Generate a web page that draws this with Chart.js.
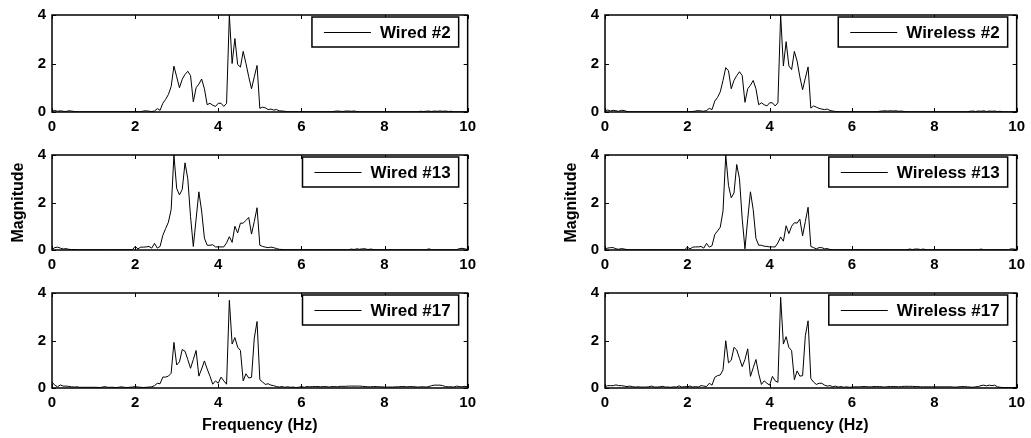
<!DOCTYPE html>
<html>
<head>
<meta charset="utf-8">
<script src="https://cdn.jsdelivr.net/npm/chart.js@4/dist/chart.umd.min.js"></script>
<style>
  html, body { margin: 0; padding: 0; background: #fff; }
  #wrap { position: relative; width: 1031px; height: 438px; overflow: hidden; }
  #wrap canvas { position: absolute; }
</style>
</head>
<body>
<div id="wrap"></div>
<script>
// spectra magnitudes, one value every 1/15 Hz from 0 to 10 Hz (15 values per row = 1 Hz)
const wired2 = [
  0.04, 0.06, 0.03, 0.05, 0.03, 0.02, 0.05, 0.04, 0.02, 0.01, 0.01, 0.01, 0.01, 0.01, 0.01,
  0.01, 0.01, 0.01, 0.01, 0.01, 0.01, 0.01, 0.01, 0.01, 0.01, 0.01, 0.01, 0.01, 0.01, 0.01,
  0.01, 0.01, 0.01, 0.04, 0.05, 0.03, 0.02, 0.04, 0.14, 0.07, 0.36, 0.52, 0.72, 1.05, 1.89,
  1.45, 1.00, 1.35, 1.55, 1.68, 1.50, 0.42, 1.00, 1.15, 1.36, 0.96, 0.30, 0.36, 0.28, 0.23,
  0.36, 0.36, 0.23, 0.36, 4.00, 2.00, 3.03, 1.96, 1.85, 2.50, 2.00, 1.45, 0.96, 1.45, 1.92,
  0.15, 0.20, 0.17, 0.10, 0.12, 0.08, 0.10, 0.05, 0.04, 0.03, 0.01, 0.01, 0.01, 0.01, 0.01,
  0.01, 0.01, 0.01, 0.01, 0.01, 0.01, 0.01, 0.01, 0.01, 0.01, 0.01, 0.01, 0.03, 0.04, 0.03,
  0.02, 0.04, 0.04, 0.03, 0.04, 0.02, 0.01, 0.01, 0.01, 0.01, 0.01, 0.01, 0.01, 0.01, 0.01,
  0.01, 0.01, 0.01, 0.01, 0.01, 0.01, 0.01, 0.01, 0.01, 0.01, 0.01, 0.01, 0.01, 0.03, 0.02,
  0.03, 0.04, 0.02, 0.04, 0.03, 0.04, 0.03, 0.04, 0.02, 0.03, 0.01, 0.01, 0.01, 0.01, 0.01,
  0.01
];
const wired13 = [
  0.03, 0.10, 0.12, 0.08, 0.04, 0.06, 0.03, 0.02, 0.02, 0.01, 0.01, 0.01, 0.01, 0.01, 0.01,
  0.01, 0.01, 0.01, 0.01, 0.01, 0.01, 0.01, 0.01, 0.01, 0.01, 0.01, 0.01, 0.01, 0.01, 0.01,
  0.15, 0.05, 0.12, 0.12, 0.13, 0.15, 0.08, 0.28, 0.08, 0.15, 0.62, 0.90, 1.17, 1.70, 4.00,
  2.59, 2.32, 2.55, 3.67, 3.00, 1.40, 0.15, 1.30, 2.45, 1.64, 0.50, 0.20, 0.20, 0.22, 0.13,
  0.13, 0.13, 0.13, 0.30, 0.56, 0.32, 1.00, 0.72, 1.13, 1.13, 1.25, 1.37, 0.67, 1.20, 1.78,
  0.20, 0.15, 0.12, 0.10, 0.12, 0.10, 0.06, 0.03, 0.02, 0.01, 0.01, 0.01, 0.01, 0.01, 0.01,
  0.01, 0.01, 0.01, 0.01, 0.01, 0.01, 0.01, 0.01, 0.01, 0.01, 0.01, 0.01, 0.01, 0.01, 0.01,
  0.01, 0.01, 0.01, 0.04, 0.02, 0.05, 0.03, 0.05, 0.05, 0.02, 0.04, 0.02, 0.01, 0.01, 0.01,
  0.01, 0.01, 0.01, 0.01, 0.01, 0.01, 0.01, 0.01, 0.01, 0.01, 0.01, 0.01, 0.01, 0.01, 0.01,
  0.01, 0.05, 0.01, 0.01, 0.01, 0.01, 0.01, 0.01, 0.01, 0.01, 0.01, 0.01, 0.06, 0.07, 0.05,
  0.02
];
const wired17 = [
  0.25, 0.12, 0.05, 0.13, 0.08, 0.08, 0.07, 0.05, 0.04, 0.05, 0.03, 0.03, 0.03, 0.03, 0.03,
  0.03, 0.03, 0.02, 0.03, 0.06, 0.03, 0.03, 0.03, 0.02, 0.03, 0.05, 0.03, 0.02, 0.03, 0.04,
  0.06, 0.04, 0.03, 0.02, 0.03, 0.04, 0.05, 0.10, 0.20, 0.18, 0.46, 0.46, 0.50, 0.62, 1.92,
  0.97, 1.10, 1.62, 1.55, 1.20, 0.83, 1.20, 1.58, 0.50, 0.80, 1.14, 0.80, 0.50, 0.16, 0.30,
  0.20, 0.46, 0.30, 0.16, 3.69, 1.85, 2.12, 1.72, 1.58, 0.30, 0.60, 0.42, 0.45, 2.10, 2.80,
  0.35, 0.25, 0.15, 0.18, 0.12, 0.10, 0.06, 0.04, 0.06, 0.03, 0.05, 0.03, 0.04, 0.02, 0.03,
  0.06, 0.03, 0.06, 0.05, 0.06, 0.06, 0.06, 0.05, 0.06, 0.06, 0.04, 0.06, 0.06, 0.05, 0.07,
  0.07, 0.07, 0.08, 0.08, 0.08, 0.08, 0.08, 0.07, 0.06, 0.05, 0.05, 0.06, 0.06, 0.05, 0.05,
  0.04, 0.04, 0.04, 0.04, 0.05, 0.05, 0.06, 0.06, 0.05, 0.06, 0.06, 0.05, 0.04, 0.05, 0.05,
  0.04, 0.06, 0.10, 0.12, 0.12, 0.12, 0.10, 0.06, 0.05, 0.05, 0.04, 0.08, 0.06, 0.05, 0.07,
  0.05
];
const wireless2 = [
  0.05, 0.08, 0.04, 0.07, 0.05, 0.03, 0.07, 0.06, 0.02, 0.01, 0.01, 0.01, 0.01, 0.01, 0.01,
  0.01, 0.01, 0.01, 0.01, 0.01, 0.01, 0.01, 0.01, 0.01, 0.01, 0.01, 0.01, 0.01, 0.01, 0.01,
  0.01, 0.01, 0.02, 0.04, 0.06, 0.04, 0.03, 0.06, 0.15, 0.10, 0.45, 0.60, 0.83, 1.30, 1.83,
  1.70, 0.96, 1.30, 1.50, 1.66, 1.50, 0.40, 0.96, 1.10, 1.30, 0.96, 0.30, 0.38, 0.30, 0.25,
  0.38, 0.38, 0.25, 0.38, 4.00, 1.90, 2.90, 1.90, 1.75, 2.50, 2.10, 1.45, 0.92, 1.40, 1.86,
  0.16, 0.25, 0.20, 0.15, 0.12, 0.10, 0.12, 0.06, 0.04, 0.02, 0.01, 0.01, 0.01, 0.01, 0.01,
  0.01, 0.01, 0.01, 0.01, 0.01, 0.01, 0.01, 0.01, 0.01, 0.01, 0.03, 0.04, 0.05, 0.04, 0.05,
  0.04, 0.05, 0.03, 0.04, 0.02, 0.01, 0.01, 0.01, 0.01, 0.01, 0.01, 0.01, 0.01, 0.01, 0.01,
  0.01, 0.01, 0.01, 0.01, 0.01, 0.01, 0.01, 0.01, 0.01, 0.01, 0.01, 0.01, 0.01, 0.03, 0.04,
  0.02, 0.04, 0.03, 0.05, 0.02, 0.04, 0.03, 0.04, 0.02, 0.03, 0.01, 0.01, 0.01, 0.01, 0.01,
  0.01
];
const wireless13 = [
  0.05, 0.08, 0.10, 0.10, 0.05, 0.03, 0.06, 0.04, 0.02, 0.01, 0.01, 0.01, 0.01, 0.01, 0.01,
  0.01, 0.01, 0.01, 0.01, 0.01, 0.01, 0.01, 0.01, 0.01, 0.01, 0.01, 0.01, 0.01, 0.01, 0.01,
  0.12, 0.05, 0.12, 0.13, 0.13, 0.15, 0.08, 0.28, 0.12, 0.18, 0.65, 0.80, 0.96, 1.64, 4.00,
  2.72, 2.20, 2.40, 3.60, 3.00, 1.30, 0.05, 1.30, 2.45, 1.70, 0.49, 0.20, 0.20, 0.16, 0.15,
  0.13, 0.13, 0.13, 0.30, 0.55, 0.37, 1.02, 0.69, 1.00, 1.15, 1.13, 1.30, 0.60, 1.20, 1.80,
  0.15, 0.10, 0.05, 0.10, 0.10, 0.05, 0.06, 0.02, 0.01, 0.01, 0.01, 0.01, 0.01, 0.01, 0.01,
  0.01, 0.01, 0.01, 0.01, 0.01, 0.01, 0.01, 0.01, 0.01, 0.01, 0.01, 0.01, 0.01, 0.01, 0.01,
  0.01, 0.01, 0.01, 0.01, 0.01, 0.01, 0.04, 0.02, 0.04, 0.04, 0.02, 0.04, 0.01, 0.01, 0.01,
  0.01, 0.01, 0.01, 0.01, 0.01, 0.01, 0.01, 0.01, 0.01, 0.01, 0.01, 0.01, 0.01, 0.01, 0.01,
  0.01, 0.01, 0.04, 0.01, 0.01, 0.01, 0.01, 0.01, 0.01, 0.01, 0.01, 0.01, 0.01, 0.05, 0.04,
  0.02
];
const wireless17 = [
  0.05, 0.10, 0.10, 0.10, 0.13, 0.10, 0.10, 0.08, 0.06, 0.08, 0.06, 0.04, 0.05, 0.04, 0.04,
  0.04, 0.05, 0.08, 0.04, 0.04, 0.05, 0.07, 0.04, 0.04, 0.03, 0.05, 0.04, 0.09, 0.04, 0.06,
  0.05, 0.08, 0.04, 0.06, 0.04, 0.10, 0.08, 0.06, 0.20, 0.12, 0.45, 0.52, 0.55, 0.76, 1.99,
  1.06, 1.17, 1.71, 1.60, 1.25, 0.90, 1.20, 1.65, 0.49, 0.85, 1.20, 0.60, 0.15, 0.30, 0.20,
  0.12, 0.49, 0.30, 0.24, 3.82, 1.85, 2.16, 1.71, 1.57, 0.35, 0.72, 0.50, 0.52, 2.20, 2.83,
  0.40, 0.25, 0.15, 0.20, 0.20, 0.12, 0.08, 0.10, 0.05, 0.08, 0.04, 0.06, 0.03, 0.05, 0.03,
  0.04, 0.05, 0.05, 0.05, 0.06, 0.06, 0.05, 0.05, 0.06, 0.06, 0.06, 0.05, 0.04, 0.06, 0.06,
  0.06, 0.06, 0.05, 0.06, 0.07, 0.07, 0.07, 0.07, 0.06, 0.06, 0.05, 0.05, 0.05, 0.05, 0.05,
  0.05, 0.05, 0.05, 0.05, 0.05, 0.05, 0.05, 0.04, 0.04, 0.05, 0.06, 0.06, 0.05, 0.04, 0.03,
  0.05, 0.06, 0.10, 0.12, 0.09, 0.12, 0.10, 0.12, 0.05, 0.03, 0.02, 0.02, 0.02, 0.02, 0.02,
  0.03
];

const labels = ['Wired #2', 'Wired #13', 'Wired #17', 'Wireless #2', 'Wireless #13', 'Wireless #17'];
const series = [wired2, wired13, wired17, wireless2, wireless13, wireless17];
const xTicks = [0, 2, 4, 6, 8, 10];
const yTicks = [0, 2, 4];
const df = 1 / 15; // frequency resolution (Hz)

const FONT = "'Liberation Sans', Arial, Helvetica, sans-serif";

// canvas placement: two columns, three rows
const colLeft = [0, 553], colWidth = [482, 478], padRight = [14, 13];
const rowTop = [0, 140, 278], rowHeight = [140, 138, 160], xAxisH = [28, 28, 50];

// inward ticks, box frame and boxed legend, matlab style
const framePlugin = {
  id: 'frame',
  afterDatasetsDraw(chart) {
    const { ctx, chartArea: a, scales: { x, y } } = chart;
    ctx.save();
    ctx.strokeStyle = '#000';
    ctx.lineWidth = 1;
    ctx.beginPath();
    x.ticks.forEach(t => {
      const px = Math.round(x.getPixelForValue(t.value)) + 0.5;
      ctx.moveTo(px, a.bottom); ctx.lineTo(px, a.bottom - 4);
      ctx.moveTo(px, a.top); ctx.lineTo(px, a.top + 4);
    });
    y.ticks.forEach(t => {
      const py = Math.round(y.getPixelForValue(t.value)) + 0.5;
      ctx.moveTo(a.left, py); ctx.lineTo(a.left + 4, py);
      ctx.moveTo(a.right, py); ctx.lineTo(a.right - 4, py);
    });
    ctx.stroke();
    ctx.lineWidth = 1.5;
    ctx.strokeRect(a.left, a.top, a.right - a.left, a.bottom - a.top);

    // legend box
    const text = chart.data.datasets[0].label;
    ctx.font = 'bold 17px ' + FONT;
    const tw = ctx.measureText(text).width;
    const w = 12 + 47 + 9 + tw + 8, h = 30;
    const bx = a.right - 9 - w, by = a.top + 2;
    ctx.fillStyle = '#fff';
    ctx.fillRect(bx, by, w, h);
    ctx.lineWidth = 1.5;
    ctx.strokeRect(bx, by, w, h);
    const my = by + h / 2;
    ctx.lineWidth = 1;
    ctx.beginPath();
    ctx.moveTo(bx + 12, Math.round(my) + 0.5);
    ctx.lineTo(bx + 59, Math.round(my) + 0.5);
    ctx.stroke();
    ctx.fillStyle = '#000';
    ctx.textBaseline = 'middle';
    ctx.textAlign = 'left';
    ctx.fillText(text, bx + 68, my + 1);
    ctx.restore();
  }
};

const wrap = document.getElementById('wrap');

series.forEach((vals, k) => {
  const col = Math.floor(k / 3), row = k % 3;
  const cv = document.createElement('canvas');
  cv.width = colWidth[col];
  cv.height = rowHeight[row];
  cv.style.left = colLeft[col] + 'px';
  cv.style.top = rowTop[row] + 'px';
  cv.style.width = colWidth[col] + 'px';
  cv.style.height = rowHeight[row] + 'px';
  wrap.appendChild(cv);

  const points = vals.map((v, i) => ({ x: i * df, y: v }));

  new Chart(cv, {
    type: 'line',
    data: {
      datasets: [{
        label: labels[k],
        data: points,
        borderColor: '#000',
        borderWidth: 1,
        pointRadius: 0,
        tension: 0,
        fill: false
      }]
    },
    options: {
      responsive: false,
      animation: false,
      devicePixelRatio: 1,
      layout: { padding: { left: 0, top: 12, right: padRight[col], bottom: 0 } },
      plugins: { legend: { display: false }, tooltip: { enabled: false } },
      scales: {
        x: {
          type: 'linear',
          min: 0, max: 10,
          afterBuildTicks: s => { s.ticks = xTicks.map(v => ({ value: v })); },
          ticks: { color: '#000', padding: 6, maxRotation: 0, font: { family: FONT, size: 15, weight: 'bold' } },
          grid: { display: false, drawTicks: false },
          border: { display: false },
          title: {
            display: row === 2,
            text: 'Frequency (Hz)',
            color: '#000',
            padding: { top: 0, bottom: 3 },
            font: { family: FONT, size: 16, weight: 'bold' }
          },
          afterFit: s => { s.height = xAxisH[row]; }
        },
        y: {
          min: 0, max: 4,
          afterBuildTicks: s => { s.ticks = yTicks.map(v => ({ value: v })); },
          ticks: { color: '#000', padding: 6, font: { family: FONT, size: 15, weight: 'bold' } },
          grid: { display: false, drawTicks: false },
          border: { display: false },
          title: {
            display: row === 1,
            text: 'Magnitude',
            color: '#000',
            padding: { top: 9, bottom: 0 },
            font: { family: FONT, size: 16, weight: 'bold' }
          },
          afterFit: s => { s.width = 52; }
        }
      }
    },
    plugins: [framePlugin]
  });
});
</script>
</body>
</html>
